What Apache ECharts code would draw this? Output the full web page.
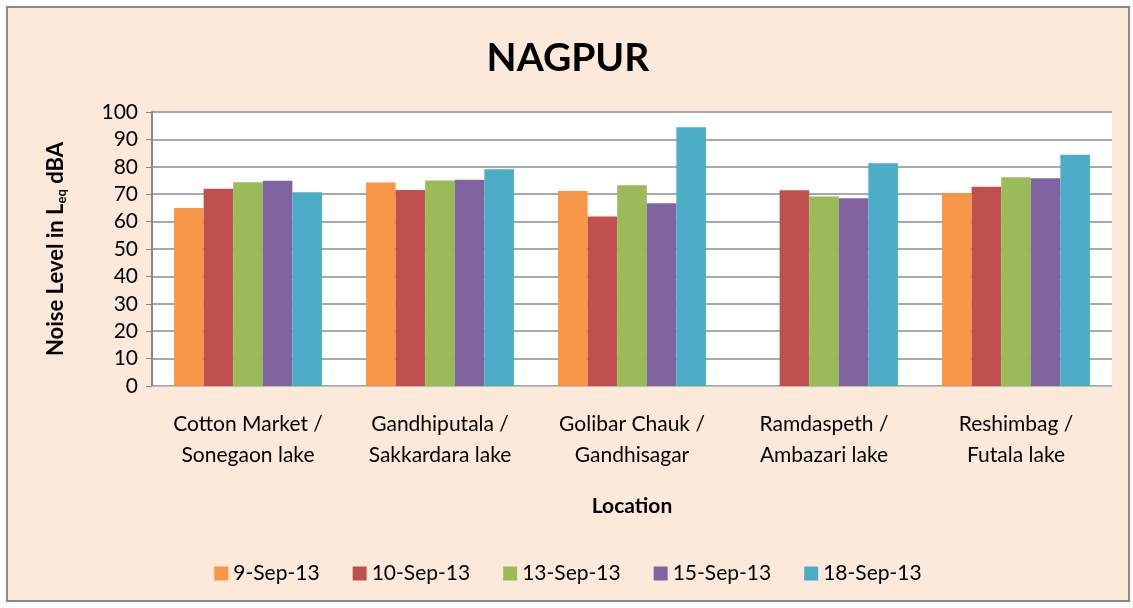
<!DOCTYPE html>
<html>
<head>
<meta charset="utf-8">
<script src="https://cdn.jsdelivr.net/npm/echarts@6/dist/echarts.min.js"></script>
<style>
  html, body { margin: 0; padding: 0; background: #fff; }
  #frame {
    position: absolute; left: 6px; top: 6px; width: 1120px; height: 592px;
    border: 2px solid #8a8a8a; background: #fde9d9;
  }
  #main { width: 1120px; height: 592px; }
</style>
</head>
<body>
<div id="frame"><div id="main"></div></div>
<script>
// categories (x axis)
var locations = ['Cotton Market /\nSonegaon lake', 'Gandhiputala /\nSakkardara lake',
  'Golibar Chauk /\nGandhisagar', 'Ramdaspeth /\nAmbazari lake', 'Reshimbag /\nFutala lake'];

// one array per measuring date
var sep9  = [65.0, 74.3, 71.2, null, 70.4];
var sep10 = [72.0, 71.5, 61.9, 71.4, 72.7];
var sep13 = [74.4, 75.0, 73.3, 69.2, 76.2];
var sep15 = [74.9, 75.3, 66.7, 68.5, 75.8];
var sep18 = [70.7, 79.1, 94.4, 81.3, 84.4];

var dates = ['9-Sep-13', '10-Sep-13', '13-Sep-13', '15-Sep-13', '18-Sep-13'];
var values = [sep9, sep10, sep13, sep15, sep18];
var colors = ['#f79646', '#c0504d', '#9bbb59', '#8064a2', '#4bacc6'];

var font = 'Lato, "Open Sans", sans-serif';

var chart = echarts.init(document.getElementById('main'));

var series = [];
for (var i = 0; i < dates.length; i++) {
  series.push({
    name: dates[i],
    type: 'bar',
    data: values[i],
    barGap: '0%',
    barCategoryGap: '23%',
    itemStyle: { color: colors[i] }
  });
}

var option = {
  animation: false,
  color: colors,
  textStyle: { fontFamily: font },
  title: {
    text: 'NAGPUR',
    left: 'center',
    top: 26,
    textStyle: { fontSize: 39, fontWeight: 'bold', color: '#000', fontFamily: font }
  },
  legend: {
    bottom: 11,
    left: 'center',
    itemWidth: 14,
    itemHeight: 14,
    itemGap: 33,
    icon: 'rect',
    textStyle: { fontSize: 21, color: '#000', fontFamily: font },
    data: dates
  },
  grid: {
    left: 144,
    right: 16,
    top: 104,
    bottom: 214
  },
  xAxis: {
    type: 'category',
    data: locations,
    name: 'Location',
    nameLocation: 'middle',
    nameGap: 110,
    nameTextStyle: { fontSize: 21, fontWeight: 'bold', color: '#000' },
    axisTick: { show: false },
    axisLine: { lineStyle: { color: '#bbb', width: 1 } },
    axisLabel: { interval: 0, hideOverlap: false, fontSize: 21, color: '#000', lineHeight: 31, margin: 23 }
  },
  yAxis: {
    type: 'value',
    min: 0,
    max: 100,
    interval: 10,
    name: 'Noise Level in L{sub|eq} dBA',
    nameLocation: 'middle',
    nameGap: 84,
    nameTextStyle: {
      fontSize: 22, fontWeight: 'bold', color: '#000',
      rich: { sub: { fontSize: 13, fontWeight: 'bold', verticalAlign: 'bottom', padding: [11, 0, 0, 0] } }
    },
    axisLine: { show: true, lineStyle: { color: '#888', width: 2 } },
    axisTick: { show: true, inside: false, length: 6, lineStyle: { color: '#888' } },
    axisLabel: { fontSize: 21, color: '#000', margin: 14 },
    splitLine: { lineStyle: { color: '#8c8c8c', width: 1.5 } }
  },
  series: series
};

chart.setOption(option);
// white plot area behind the bars
var rect = chart.getModel().getComponent('grid').coordinateSystem.getRect();
chart.setOption({
  graphic: [{
    type: 'rect', z: -10, silent: true,
    shape: { x: rect.x, y: rect.y, width: rect.width, height: rect.height },
    style: { fill: '#fff' }
  }]
});
</script>
</body>
</html>
